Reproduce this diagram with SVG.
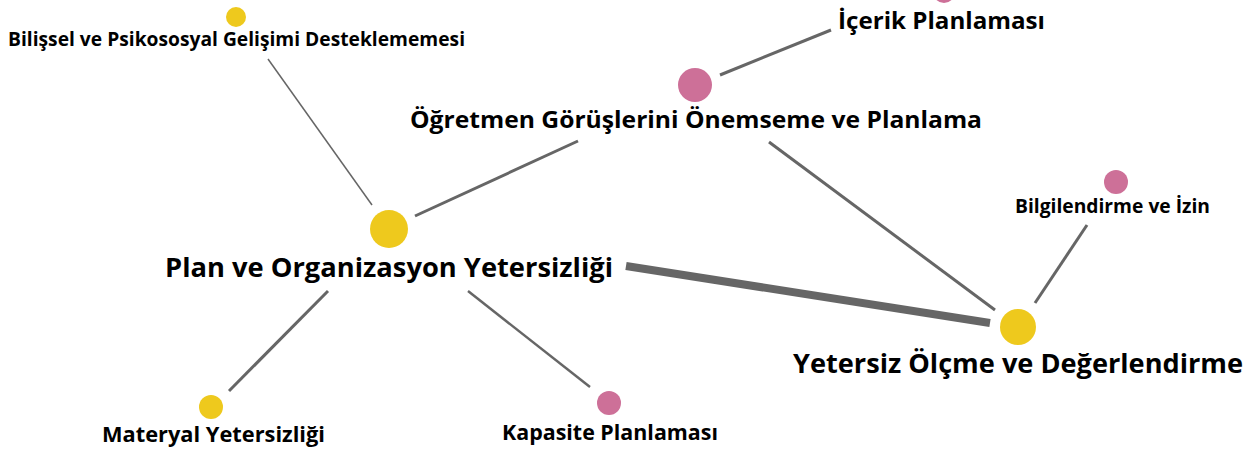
<svg xmlns="http://www.w3.org/2000/svg" width="1253" height="450" viewBox="0 0 1253 450">
  <style>
    .lbl { font-family: "Open Sans", "Noto Sans", "DejaVu Sans", sans-serif; font-weight: 700; fill: #000; text-anchor: middle; }
    .edge { stroke: #666; stroke-linecap: butt; fill: none; }
    .yellow { fill: #EEC91D; }
    .pink { fill: #CD7098; }
  </style>
  <rect width="1253" height="450" fill="#fff"/>

  <!-- connectors -->
  <g id="edges">
    <line class="edge" x1="268" y1="59" x2="372" y2="205" stroke-width="1.5"/>
    <line class="edge" x1="720" y1="75" x2="831" y2="30" stroke-width="3"/>
    <line class="edge" x1="578" y1="141" x2="415" y2="216" stroke-width="3"/>
    <line class="edge" x1="769" y1="142" x2="995" y2="310" stroke-width="3"/>
    <line class="edge" x1="626" y1="266" x2="990" y2="323" stroke-width="8"/>
    <line class="edge" x1="1087" y1="225" x2="1035" y2="303" stroke-width="3"/>
    <line class="edge" x1="328" y1="291" x2="229" y2="391" stroke-width="3"/>
    <line class="edge" x1="468" y1="291" x2="590" y2="387" stroke-width="2.5"/>
  </g>

  <!-- nodes -->
  <g id="node-bilissel">
    <circle class="yellow" cx="236" cy="17" r="10"/>
    <text class="lbl" x="236.5" y="46" font-size="19" textLength="457" lengthAdjust="spacingAndGlyphs">Bilişsel ve Psikososyal Gelişimi Desteklememesi</text>
  </g>
  <g id="node-icerik">
    <circle class="pink" cx="944" cy="-8" r="11"/>
    <text class="lbl" x="941.5" y="29" font-size="23" textLength="207" lengthAdjust="spacingAndGlyphs">İçerik Planlaması</text>
  </g>
  <g id="node-ogretmen">
    <circle class="pink" cx="695" cy="85" r="17"/>
    <text class="lbl" x="696" y="128" font-size="23" textLength="572" lengthAdjust="spacingAndGlyphs">Öğretmen Görüşlerini Önemseme ve Planlama</text>
  </g>
  <g id="node-plan">
    <circle class="yellow" cx="389" cy="229" r="19"/>
    <text class="lbl" x="389" y="277" font-size="27" textLength="448" lengthAdjust="spacingAndGlyphs">Plan ve Organizasyon Yetersizliği</text>
  </g>
  <g id="node-bilgilendirme">
    <circle class="pink" cx="1116" cy="182" r="12"/>
    <text class="lbl" x="1112.5" y="213" font-size="19" textLength="195" lengthAdjust="spacingAndGlyphs">Bilgilendirme ve İzin</text>
  </g>
  <g id="node-yetersiz">
    <circle class="yellow" cx="1018" cy="327" r="18"/>
    <text class="lbl" x="1018" y="373" font-size="27" textLength="450" lengthAdjust="spacingAndGlyphs">Yetersiz Ölçme ve Değerlendirme</text>
  </g>
  <g id="node-materyal">
    <circle class="yellow" cx="211" cy="407" r="12"/>
    <text class="lbl" x="213.5" y="442" font-size="21" textLength="223" lengthAdjust="spacingAndGlyphs">Materyal Yetersizliği</text>
  </g>
  <g id="node-kapasite">
    <circle class="pink" cx="609" cy="403" r="12"/>
    <text class="lbl" x="610" y="440" font-size="21" textLength="216" lengthAdjust="spacingAndGlyphs">Kapasite Planlaması</text>
  </g>
</svg>
